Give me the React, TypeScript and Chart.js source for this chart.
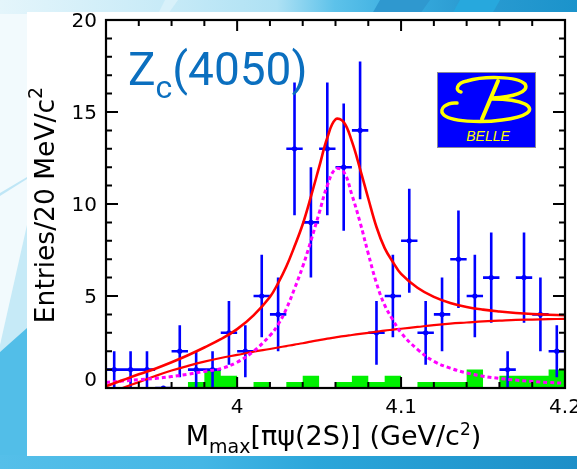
import React, { useEffect, useRef } from "react";
import { Chart, registerables } from "chart.js";

Chart.register(...registerables);

// Candidate mass bins (GeV/c^2), 10 MeV wide, with event counts
const binCenters = [
  3.925, 3.935, 3.945, 3.955, 3.965, 3.975, 3.985, 3.995, 4.005, 4.015, 4.025, 4.035, 4.045, 4.055,
  4.065, 4.075, 4.085, 4.095, 4.105, 4.115, 4.125, 4.135, 4.145, 4.155, 4.165, 4.175, 4.185, 4.195,
];
const binHalfWidth = 0.005;
const counts = [1, 1, 1, 0, 2, 1, 1, 3, 2, 5, 4, 13, 9, 13, 12, 14, 3, 5, 8, 3, 4, 7, 5, 6, 1, 6, 4, 2];
const countErrors = [
  1, 1, 1, 0, 1.41, 1, 1, 1.73, 1.41, 2.24, 2, 3.61, 3, 3.61, 3.46, 3.74, 1.73, 2.24, 2.83, 1.73, 2,
  2.65, 2.24, 2.45, 1, 2.45, 2, 1.41,
];
// Scaled sideband estimate, same binning
const sidebandCounts = [
  0, 0, 0, 0, 0, 0.33, 1, 0.67, 0, 0.33, 0, 0.33, 0.67, 0, 0.33, 0.67, 0.33, 0.67, 0, 0.33, 0.33,
  0.33, 1, 0, 0.67, 0.67, 0.67, 1,
];

// Fit curves sampled along the mass axis
const fitMass = [
  3.92, 3.93, 3.94, 3.95, 3.96, 3.97, 3.98, 3.99, 4.0, 4.01, 4.02, 4.025, 4.03, 4.035, 4.04, 4.045,
  4.05, 4.055, 4.06, 4.065, 4.07, 4.075, 4.08, 4.085, 4.09, 4.095, 4.1, 4.11, 4.12, 4.13, 4.14, 4.15,
  4.16, 4.17, 4.18, 4.19, 4.2,
];
const totalFit = [
  0.1, 0.42, 0.75, 1.05, 1.4, 1.78, 2.2, 2.65, 3.2, 3.95, 4.95, 5.7, 6.6, 7.7, 8.9, 10.4, 12.0, 13.6,
  14.6, 14.45, 13.4, 11.9, 10.3, 8.75, 7.6, 6.85, 6.2, 5.45, 4.95, 4.62, 4.4, 4.26, 4.16, 4.08, 4.02,
  3.98, 3.95,
];
const backgroundFit = [
  null, 0.0, 0.32, 0.65, 0.95, 1.2, 1.43, 1.63, 1.8, 1.97, 2.12, 2.2, 2.28, 2.36, 2.43, 2.52, 2.6,
  2.68, 2.75, 2.82, 2.88, 2.94, 3.0, 3.06, 3.12, 3.17, 3.22, 3.32, 3.42, 3.5, 3.56, 3.62, 3.66, 3.7,
  3.72, 3.74, 3.76,
];
const signalFit = [
  0.3, 0.38, 0.45, 0.52, 0.62, 0.75, 0.9, 1.05, 1.4, 2.0, 2.85, 3.45, 4.3, 5.4, 6.6, 8.0, 9.5, 11.0,
  11.9, 11.75, 10.5, 9.0, 7.3, 5.7, 4.5, 3.7, 3.0, 2.1, 1.45, 1.08, 0.82, 0.64, 0.52, 0.43, 0.36, 0.3,
  0.26,
];

// Axes
const xMin = 3.92;
const xMax = 4.2;
const yMin = 0;
const yMax = 20;
const xMajorTicks = [4.0, 4.1, 4.2];
const xTickLabels = ["4", "4.1", "4.2"];
const xMinorTicks = [3.94, 3.96, 3.98, 4.02, 4.04, 4.06, 4.08, 4.12, 4.14, 4.16, 4.18];
const yMajorTicks = [0, 5, 10, 15, 20];
const yTickLabels = ["0", "5", "10", "15", "20"];
const yMinorStep = 1;

const BLUE = "#0000FF";
const RED = "#FF0000";
const MAGENTA = "#FF00FF";
const GREEN = "#00F000";
const LABEL_FONT = "'DejaVu Sans', sans-serif";

type Run = { text: string; size: number; dy: number };

function drawRuns(ctx: CanvasRenderingContext2D, runs: Run[], x: number, baseline: number, family: string, align: "center" | "left") {
  const widths = runs.map((r) => {
    ctx.font = `${r.size}px ${family}`;
    return ctx.measureText(r.text).width;
  });
  const total = widths.reduce((s, w) => s + w, 0);
  let pos = align === "center" ? x - total / 2 : x;
  ctx.textAlign = "left";
  ctx.textBaseline = "alphabetic";
  runs.forEach((r, i) => {
    ctx.font = `${r.size}px ${family}`;
    ctx.fillText(r.text, pos, baseline + r.dy);
    pos += widths[i];
  });
}

// Data error bars, drawn right after the sideband histogram
const errorBarPlugin = {
  id: "errorBars",
  afterDatasetDraw(chart: any, args: any) {
    if (args.index !== 0) return;
    const { ctx, chartArea: a, scales } = chart;
    const x = scales.x;
    const y = scales.y;
    ctx.save();
    ctx.beginPath();
    ctx.rect(a.left, a.top, a.right - a.left, a.bottom - a.top);
    ctx.clip();
    ctx.strokeStyle = BLUE;
    ctx.lineWidth = 2.6;
    ctx.beginPath();
    binCenters.forEach((c, i) => {
      const px = x.getPixelForValue(c);
      const py = y.getPixelForValue(counts[i]);
      ctx.moveTo(x.getPixelForValue(c - binHalfWidth), py);
      ctx.lineTo(x.getPixelForValue(c + binHalfWidth), py);
      if (countErrors[i] > 0) {
        ctx.moveTo(px, y.getPixelForValue(counts[i] - countErrors[i]));
        ctx.lineTo(px, y.getPixelForValue(counts[i] + countErrors[i]));
      }
    });
    ctx.stroke();
    ctx.restore();
  },
};

// Frame with inward ticks, tick labels, axis titles and the state label
const framePlugin = {
  id: "frame",
  afterDraw(chart: any) {
    const { ctx, chartArea: a, scales } = chart;
    const x = scales.x;
    const y = scales.y;
    ctx.save();
    ctx.strokeStyle = "#000";
    ctx.lineWidth = 2;
    ctx.beginPath();
    const tick = (px: number, vertical: boolean, len: number) => {
      if (vertical) {
        ctx.moveTo(px, a.bottom);
        ctx.lineTo(px, a.bottom - len);
        ctx.moveTo(px, a.top);
        ctx.lineTo(px, a.top + len);
      } else {
        ctx.moveTo(a.left, px);
        ctx.lineTo(a.left + len, px);
        ctx.moveTo(a.right, px);
        ctx.lineTo(a.right - len, px);
      }
    };
    xMajorTicks.forEach((v) => tick(x.getPixelForValue(v), true, 11));
    xMinorTicks.forEach((v) => tick(x.getPixelForValue(v), true, 6));
    for (let v = yMin; v <= yMax; v += yMinorStep) {
      tick(y.getPixelForValue(v), false, v % 5 === 0 ? 12 : 6);
    }
    ctx.stroke();
    ctx.lineWidth = 2.2;
    ctx.strokeRect(a.left, a.top, a.right - a.left, a.bottom - a.top);

    ctx.fillStyle = "#000";
    ctx.font = `20px ${LABEL_FONT}`;
    ctx.textBaseline = "alphabetic";
    ctx.textAlign = "center";
    xMajorTicks.forEach((v, i) => {
      ctx.fillText(xTickLabels[i], x.getPixelForValue(v), a.bottom + 25);
    });
    ctx.textAlign = "right";
    yMajorTicks.forEach((v, i) => {
      const py = y.getPixelForValue(v);
      ctx.fillText(yTickLabels[i], a.left - 9, v === yMin ? py - 2 : py + 7);
    });

    // x-axis title
    drawRuns(
      ctx,
      [
        { text: "M", size: 27, dy: 0 },
        { text: "max", size: 19, dy: 8 },
        { text: "[\u03C0\u03C8(2S)] (GeV/c", size: 27, dy: 0 },
        { text: "2", size: 17, dy: -10 },
        { text: ")", size: 27, dy: 0 },
      ],
      (a.left + a.right) / 2 - 2,
      a.bottom + 57,
      LABEL_FONT,
      "center"
    );

    // y-axis title
    ctx.save();
    ctx.translate(54, (a.top + a.bottom) / 2 + 1);
    ctx.rotate(-Math.PI / 2);
    drawRuns(
      ctx,
      [
        { text: "Entries/20 MeV/c", size: 26.5, dy: 0 },
        { text: "2", size: 19, dy: -12 },
      ],
      0,
      0,
      LABEL_FONT,
      "center"
    );
    ctx.restore();

    // state label
    ctx.fillStyle = "#0B6FBF";
    drawRuns(
      ctx,
      [
        { text: "Z", size: 46, dy: 0 },
        { text: "c", size: 32, dy: 13 },
        { text: "(4050)", size: 46, dy: 0 },
      ],
      a.left + 22,
      85,
      "Roboto, 'Open Sans', sans-serif",
      "left"
    );
    ctx.restore();
  },
};

function Backdrop() {
  return (
    <svg width={577} height={469} style={{ position: "absolute", left: 0, top: 0 }}>
      <defs>
        <linearGradient id="topBand" x1="0" x2="1" y1="0" y2="0">
          <stop offset="0" stopColor="#E4F5FB" />
          <stop offset="0.3" stopColor="#C6EAF7" />
          <stop offset="0.48" stopColor="#AEE1F4" />
          <stop offset="0.58" stopColor="#5DC2EA" />
          <stop offset="0.7" stopColor="#37ACDF" />
          <stop offset="0.8" stopColor="#2C9CD2" />
          <stop offset="1" stopColor="#1B93CB" />
        </linearGradient>
        <linearGradient id="bottomBand" x1="0" x2="1" y1="0" y2="0">
          <stop offset="0" stopColor="#55BFE9" />
          <stop offset="0.35" stopColor="#44B6E5" />
          <stop offset="0.55" stopColor="#2BA6DA" />
          <stop offset="1" stopColor="#1D8FC8" />
        </linearGradient>
      </defs>
      <rect x={0} y={0} width={577} height={469} fill="#F2FAFD" />
      <rect x={0} y={0} width={577} height={14} fill="url(#topBand)" />
      <polygon points="165,0 178,0 168,14 158,14" fill="#D8F1FA" />
      <polygon points="380,0 430,0 420,14 372,14" fill="#2F98CF" />
      <polygon points="460,0 500,0 492,14 452,14" fill="#27A8DD" />
      <polygon points="0,193 27,177 27,179 0,196" fill="#BFE6F6" />
      <polygon points="0,345 27,225 27,330 0,352" fill="#C6EAF7" />
      <polygon points="0,352 27,328 27,469 0,469" fill="#52BEE8" />
      <rect x={0} y={455} width={577} height={14} fill="url(#bottomBand)" />
      <rect x={27} y={12} width={550} height={444} fill="#FFFFFF" />
    </svg>
  );
}

function BelleLogo() {
  return (
    <svg width={100} height={77} style={{ position: "absolute", left: 437, top: 72 }}>
      <rect x={0.5} y={0.5} width={98} height={75} fill="#0000FF" stroke="#8A8A9A" strokeWidth={1} />
      <g fill="none" stroke="#FFFF00" strokeLinecap="round">
        <path d="M 24 20 C 18 19, 19 11, 30 9 C 46 4, 80 4, 88 12 C 93 20, 76 25, 55 26" strokeWidth={3.5} />
        <path d="M 61 9 L 45 47" strokeWidth={4} />
        <path d="M 20 31 C 9 30, 2 37, 6 42 C 12 50, 45 51, 65 48 C 90 45, 99 38, 88 32 C 80 28, 66 27, 55 27" strokeWidth={3.5} />
      </g>
      <text
        x={51}
        y={69}
        textAnchor="middle"
        fill="#FFFF00"
        fontStyle="italic"
        fontSize={14}
        fontFamily="'Liberation Sans', sans-serif"
      >
        BELLE
      </text>
    </svg>
  );
}

export default function App() {
  const canvasRef = useRef<HTMLCanvasElement | null>(null);

  useEffect(() => {
    const canvas = canvasRef.current;
    if (!canvas) return;

    // Each bin holds its value from its low edge up to the next edge
    const sidebandSteps = binCenters.map((c, i) => ({ x: c - binHalfWidth, y: sidebandCounts[i] }));
    sidebandSteps.push({
      x: binCenters[binCenters.length - 1] + binHalfWidth,
      y: sidebandCounts[sidebandCounts.length - 1],
    });
    const points = binCenters.map((c, i) => ({ x: c, y: counts[i] }));
    const curve = (vals: (number | null)[]) => fitMass.map((m, i) => ({ x: m, y: vals[i] }));

    const chart = new Chart(canvas, {
      type: "scatter",
      data: {
        datasets: [
          {
            type: "line",
            label: "sideband",
            data: sidebandSteps,
            stepped: "before",
            fill: "origin",
            backgroundColor: GREEN,
            borderColor: GREEN,
            borderWidth: 0,
            pointRadius: 0,
            order: 5,
          },
          {
            type: "scatter",
            label: "data",
            data: points,
            pointRadius: 2.6,
            pointBackgroundColor: BLUE,
            pointBorderColor: BLUE,
            pointBorderWidth: 0,
            order: 4,
          },
          {
            type: "line",
            label: "background",
            data: curve(backgroundFit),
            borderColor: RED,
            borderWidth: 2.2,
            pointRadius: 0,
            fill: false,
            tension: 0.4,
            order: 3,
          },
          {
            type: "line",
            label: "signal",
            data: curve(signalFit),
            borderColor: MAGENTA,
            borderWidth: 3,
            borderDash: [4, 3],
            pointRadius: 0,
            fill: false,
            tension: 0.4,
            order: 2,
          },
          {
            type: "line",
            label: "total",
            data: curve(totalFit),
            borderColor: RED,
            borderWidth: 2.6,
            pointRadius: 0,
            fill: false,
            tension: 0.4,
            order: 1,
          },
        ],
      } as any,
      options: {
        animation: false,
        responsive: false,
        events: [],
        layout: { padding: { left: 106, top: 20, right: 12, bottom: 81 } },
        plugins: { legend: { display: false }, tooltip: { enabled: false } },
        scales: {
          x: { type: "linear", min: xMin, max: xMax, display: false },
          y: { type: "linear", min: yMin, max: yMax, display: false },
        },
      },
      plugins: [errorBarPlugin, framePlugin],
    });

    return () => chart.destroy();
  }, []);

  return (
    <div style={{ position: "fixed", left: 0, top: 0, width: 577, height: 469, overflow: "hidden" }}>
      <Backdrop />
      <canvas
        ref={canvasRef}
        width={577}
        height={469}
        style={{ position: "absolute", left: 0, top: 0, width: 577, height: 469 }}
      />
      <BelleLogo />
    </div>
  );
}
